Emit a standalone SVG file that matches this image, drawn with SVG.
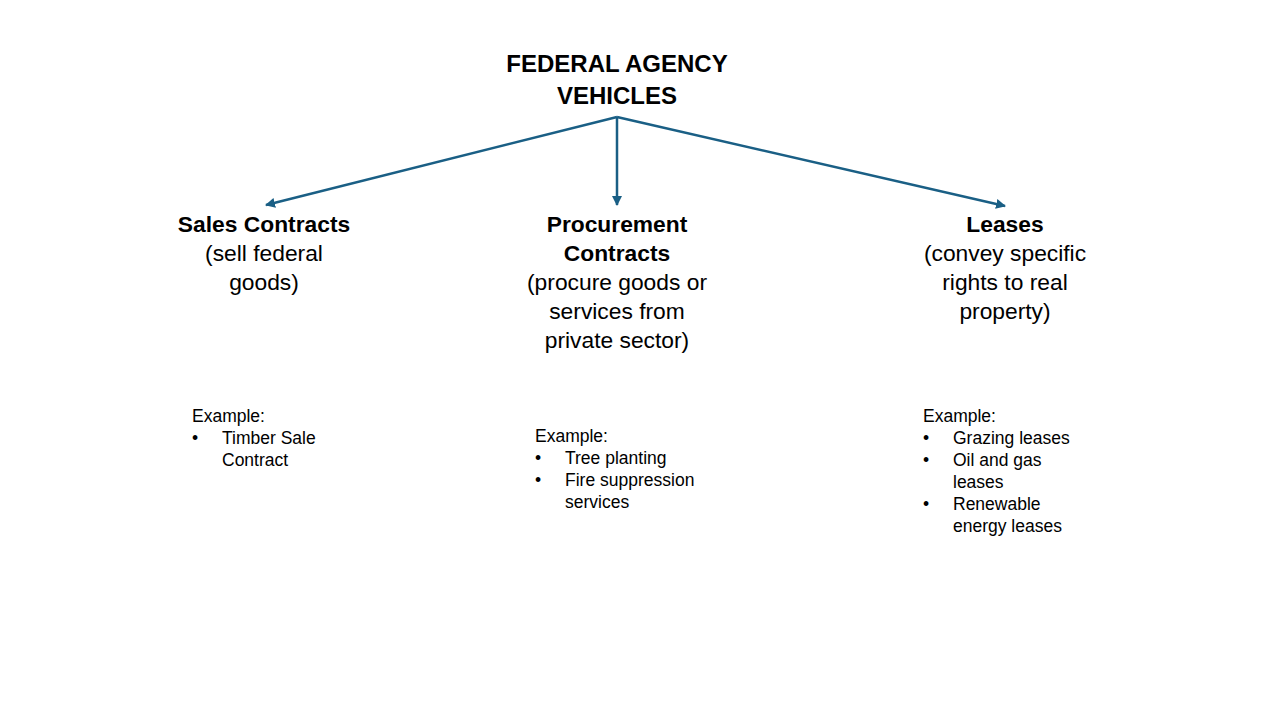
<svg xmlns="http://www.w3.org/2000/svg" width="1280" height="720" viewBox="0 0 1280 720">
<defs>
<style>
.t{font-family:"Liberation Sans",Arial,sans-serif;fill:#000}
.title{font-size:24px;font-weight:bold;text-anchor:middle}
.h{font-size:22.8px;font-weight:bold;text-anchor:middle}
.s{font-size:22.8px;text-anchor:middle}
.e{font-size:17.5px}
.c{stroke:#1a5f85;stroke-width:2.5;fill:none}
</style>
<marker id="ah" viewBox="0 0 10 10" refX="9" refY="5" markerWidth="4" markerHeight="4" orient="auto">
<path d="M0,0 L10,5 L0,10 z" fill="#1a5f85"/>
</marker>
</defs>
<rect width="1280" height="720" fill="#fff"/>
<g id="root">
<text class="t title" x="617" y="72">FEDERAL AGENCY</text>
<text class="t title" x="617" y="104">VEHICLES</text>
</g>
<g id="connectors">
<line class="c" x1="617" y1="117" x2="266" y2="205" marker-end="url(#ah)"/>
<line class="c" x1="617" y1="117" x2="617" y2="205" marker-end="url(#ah)"/>
<line class="c" x1="617" y1="117" x2="1005" y2="206" marker-end="url(#ah)"/>
</g>
<g id="sales">
<text class="t h" x="264" y="232">Sales Contracts</text>
<text class="t s" x="264" y="261">(sell federal</text>
<text class="t s" x="264" y="290">goods)</text>
</g>
<g id="procurement">
<text class="t h" x="617" y="232">Procurement</text>
<text class="t h" x="617" y="261">Contracts</text>
<text class="t s" x="617" y="290">(procure goods or</text>
<text class="t s" x="617" y="319">services from</text>
<text class="t s" x="617" y="348">private sector)</text>
</g>
<g id="leases">
<text class="t h" x="1005" y="232">Leases</text>
<text class="t s" x="1005" y="261">(convey specific</text>
<text class="t s" x="1005" y="290">rights to real</text>
<text class="t s" x="1005" y="319">property)</text>
</g>
<g id="sales-examples" class="t e">
<text x="192" y="422">Example:</text>
<text x="192" y="444">•</text><text x="222" y="444">Timber Sale</text>
<text x="222" y="466">Contract</text>
</g>
<g id="procurement-examples" class="t e">
<text x="535" y="442">Example:</text>
<text x="535" y="464">•</text><text x="565" y="464">Tree planting</text>
<text x="535" y="486">•</text><text x="565" y="486">Fire suppression</text>
<text x="565" y="508">services</text>
</g>
<g id="leases-examples" class="t e">
<text x="923" y="422">Example:</text>
<text x="923" y="444">•</text><text x="953" y="444">Grazing leases</text>
<text x="923" y="466">•</text><text x="953" y="466">Oil and gas</text>
<text x="953" y="488">leases</text>
<text x="923" y="510">•</text><text x="953" y="510">Renewable</text>
<text x="953" y="532">energy leases</text>
</g>
</svg>
